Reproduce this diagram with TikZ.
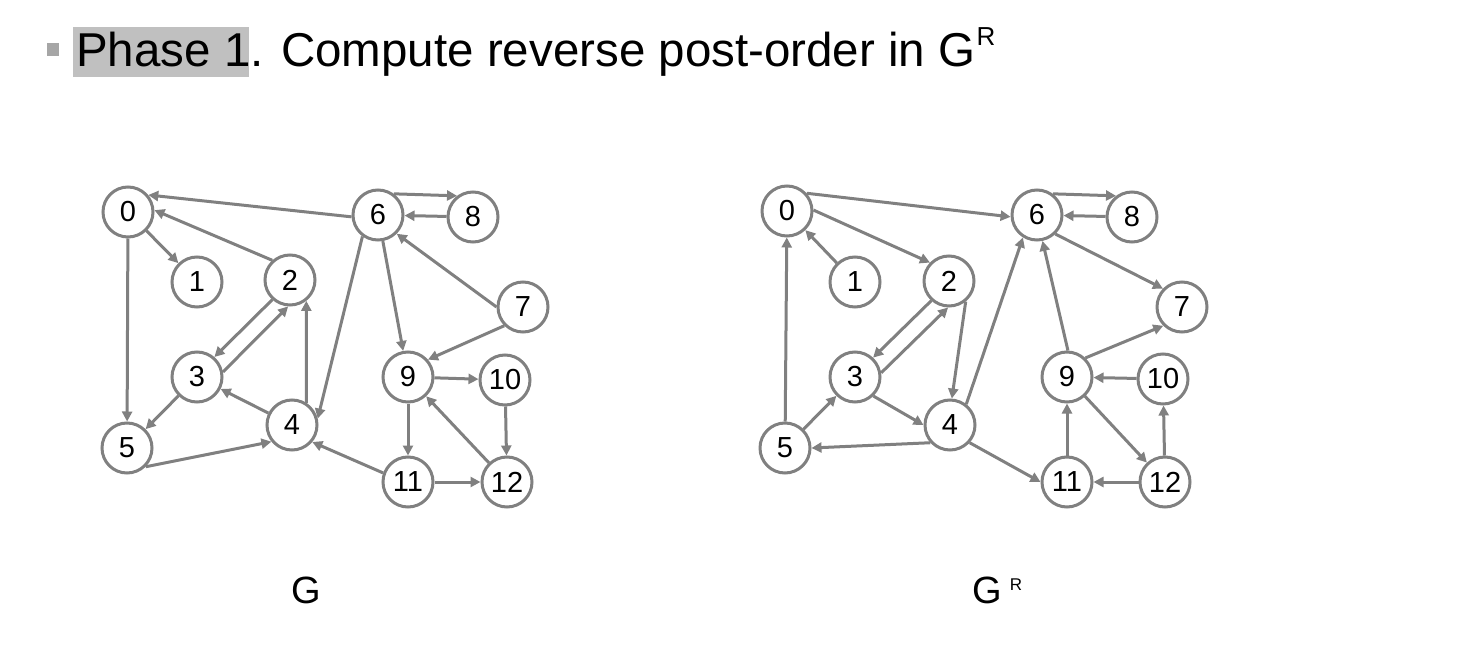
\documentclass[tikz,border=0pt]{standalone}
\usepackage{fontspec}
\setmainfont{Liberation Sans}
\usetikzlibrary{arrows.meta}
\definecolor{eg}{HTML}{808080}
\definecolor{hl}{HTML}{C0C0C0}
\definecolor{bul}{HTML}{A6A6A6}
\begin{document}
\begin{tikzpicture}[x=1pt,y=-1pt,
  vtx/.style={circle,draw=eg,line width=3pt,fill=white,minimum size=50pt,inner sep=0pt,font=\fontsize{29}{29}\selectfont},
  edge/.style={draw=eg,line width=3pt,-{Triangle[length=10pt,width=10pt]}},
  lbl/.style={inner sep=0pt,font=\fontsize{38}{38}\selectfont}]
\useasboundingbox (0,0) rectangle (1472,671);
% title
\fill[bul] (47,43) rectangle (59,56);
\fill[hl] (73,27) rectangle (249,77);
\node[anchor=base west,inner sep=0pt,font=\fontsize{47.5}{47.5}\selectfont] (title) at (76,67)
  {Phase 1. Compute reverse post-order in G\kern1pt\raisebox{0.45em}{\fontsize{26}{26}\selectfont R}};
% graph G
\node[vtx] (a0) at (128,212) {0};
\node[vtx] (a1) at (197,282) {1};
\node[vtx] (a2) at (290,280) {2};
\node[vtx] (a3) at (197,377) {3};
\node[vtx] (a4) at (292,425) {4};
\node[vtx] (a5) at (127,448) {5};
\node[vtx] (a6) at (378,215) {6};
\node[vtx] (a7) at (523,307) {7};
\node[vtx] (a8) at (473,217) {8};
\node[vtx] (a9) at (408,377) {9};
\node[vtx] (a10) at (505,380) {10};
\node[vtx] (a11) at (408,482) {11};
\node[vtx] (a12) at (507,482) {12};
\draw[edge] (a0) -- (a1);
\draw[edge] (a0) -- (a5);
\draw[edge] (a2.132) -- (a0.4);
\draw[edge] (a6.184) -- (a0.40);
\draw[edge] (a2.228) -- (a3.49);
\draw[edge] (a3.11) -- (a2.266);
\draw[edge] (a3) -- (a5);
\draw[edge] (a4) -- (a3);
\draw[edge] (a4.57) -- (a2.308);
\draw[edge] (a5.315) -- (a4.219);
\draw[edge] (a6.234) -- (a4.14);
\draw[edge] (a6) -- (a9);
\draw[edge] (a6.53) -- (a8.127);
\draw[edge] (a8) -- (a6);
\draw[edge] (a7.180) -- (a6.315);
\draw[edge] (a7.225) -- (a9.41);
\draw[edge] (a9) -- (a10);
\draw[edge] (a9) -- (a11);
\draw[edge] (a10) -- (a12);
\draw[edge] (a11) -- (a12);
\draw[edge] (a12) -- (a9);
\draw[edge] (a11.160) -- (a4.320);
% graph G^R
\node[vtx] (b0) at (787,211) {0};
\node[vtx] (b1) at (855,282) {1};
\node[vtx] (b2) at (949,281) {2};
\node[vtx] (b3) at (855,377) {3};
\node[vtx] (b4) at (950,425) {4};
\node[vtx] (b5) at (785,448) {5};
\node[vtx] (b6) at (1037,215) {6};
\node[vtx] (b7) at (1182,307) {7};
\node[vtx] (b8) at (1132,217) {8};
\node[vtx] (b9) at (1067,377) {9};
\node[vtx] (b10) at (1163,379) {10};
\node[vtx] (b11) at (1067,482) {11};
\node[vtx] (b12) at (1165,482) {12};
\draw[edge] (b1) -- (b0);
\draw[edge] (b5) -- (b0);
\draw[edge] (b0.2) -- (b2.136);
\draw[edge] (b0.42) -- (b6.184);
\draw[edge] (b2.228) -- (b3.47);
\draw[edge] (b3.9) -- (b2.268);
\draw[edge] (b5) -- (b3);
\draw[edge] (b3.314) -- (b4.180);
\draw[edge] (b2.309) -- (b4.86);
\draw[edge] (b4.222) -- (b5.0);
\draw[edge] (b4.52) -- (b6.238);
\draw[edge] (b4.318) -- (b11.180);
\draw[edge] (b6.53) -- (b8.127);
\draw[edge] (b8) -- (b6);
\draw[edge] (b6.314) -- (b7.136);
\draw[edge] (b9.88) -- (b6.282);
\draw[edge] (b9.46) -- (b7.225);
\draw[edge] (b10) -- (b9);
\draw[edge] (b11) -- (b9);
\draw[edge] (b9) -- (b12);
\draw[edge] (b12) -- (b10);
\draw[edge] (b12) -- (b11);
% captions
\node[lbl,anchor=base] (lg) at (306,603) {G};
\node[lbl,anchor=base west] (lgr) at (972,603) {G\kern8pt\raisebox{13pt}{\fontsize{17}{17}\selectfont R}};
\end{tikzpicture}
\end{document}
